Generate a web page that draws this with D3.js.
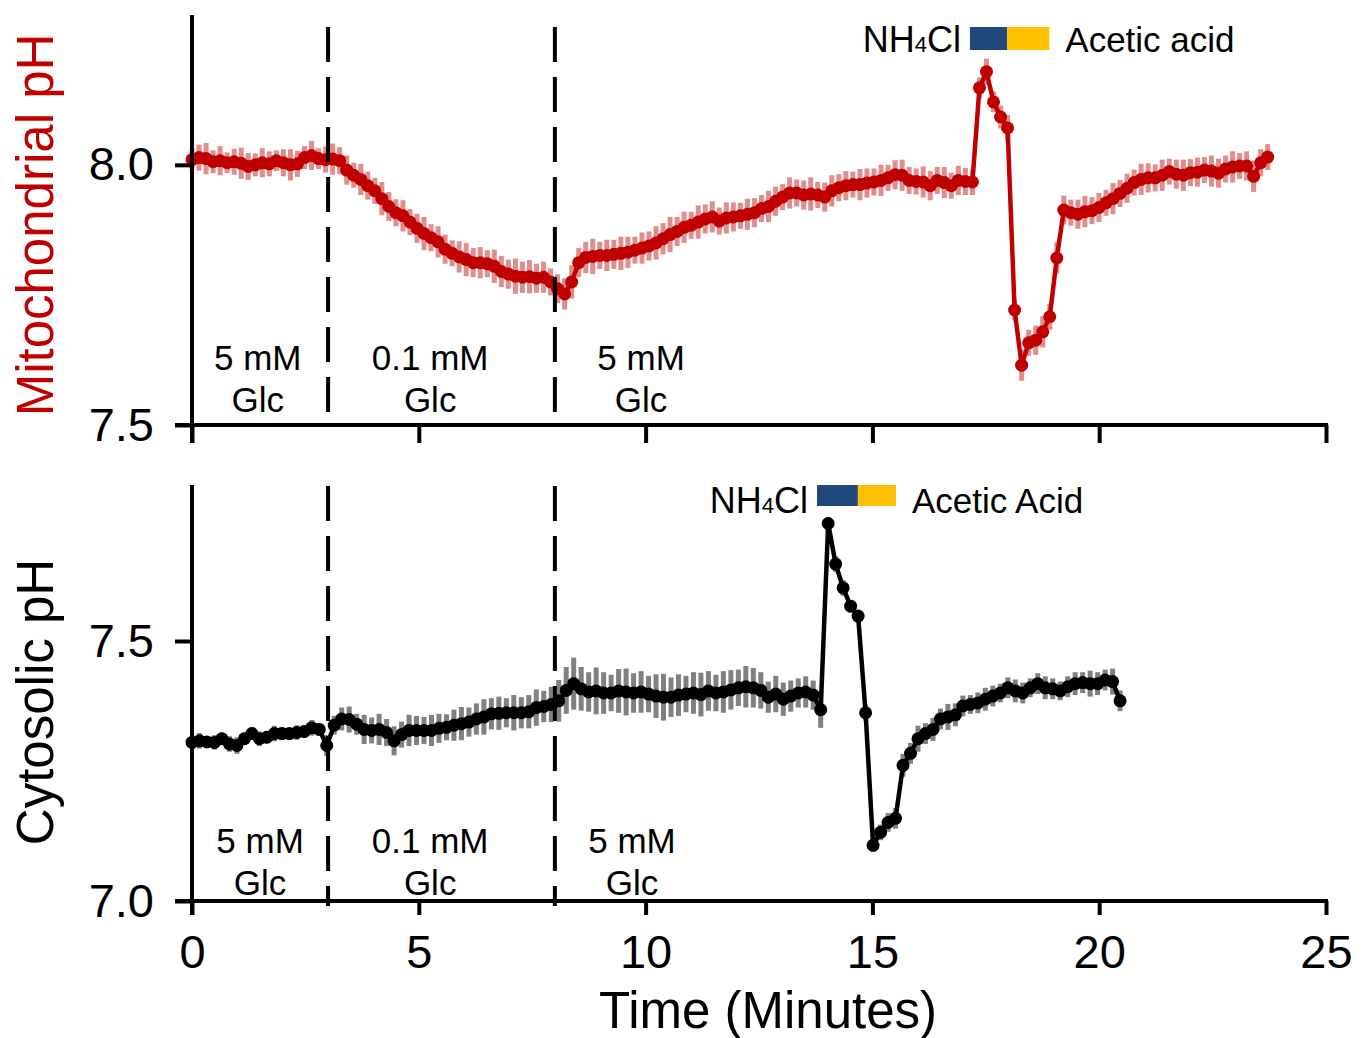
<!DOCTYPE html>
<html>
<head>
<meta charset="utf-8">
<script src="https://cdn.jsdelivr.net/npm/d3@7"></script>
<style>
  body { margin: 0; background: #fff; }
  svg text { font-family: "Liberation Sans", Arial, sans-serif; }
</style>
</head>
<body>
<svg id="chart" width="1365" height="1038"></svg>
<script>
// sampling interval (minutes) for each trace
const topDt = 0.155;
const bottomDt = 0.165;

// mitochondrial pH (mean) and error
const topValues = [
    8.010, 8.014, 8.012, 8.006, 8.008, 8.004, 8.006, 8.003, 7.997, 8.000,
    8.004, 8.002, 8.008, 8.004, 8.000, 8.002, 8.014, 8.018, 8.012, 8.010,
    8.011, 8.008, 7.990, 7.980, 7.972, 7.960, 7.950, 7.935, 7.920, 7.908,
    7.902, 7.890, 7.878, 7.868, 7.860, 7.852, 7.838, 7.830, 7.823, 7.818,
    7.812, 7.812, 7.810, 7.805, 7.795, 7.790, 7.786, 7.784, 7.785, 7.782,
    7.784, 7.775, 7.762, 7.752, 7.775, 7.812, 7.822, 7.824, 7.826, 7.826,
    7.828, 7.830, 7.832, 7.836, 7.840, 7.844, 7.850, 7.858, 7.866, 7.872,
    7.880, 7.884, 7.890, 7.896, 7.900, 7.892, 7.898, 7.900, 7.902, 7.905,
    7.908, 7.916, 7.920, 7.930, 7.938, 7.946, 7.946, 7.942, 7.944, 7.942,
    7.938, 7.950, 7.956, 7.960, 7.962, 7.962, 7.965, 7.967, 7.970, 7.975,
    7.981, 7.980, 7.970, 7.968, 7.967, 7.960, 7.970, 7.966, 7.960, 7.970,
    7.968, 7.967, 8.148, 8.179, 8.121, 8.092, 8.071, 7.721, 7.615, 7.658,
    7.663, 7.679, 7.708, 7.821, 7.913, 7.908, 7.905, 7.910, 7.912, 7.918,
    7.927, 7.935, 7.945, 7.955, 7.966, 7.972, 7.975, 7.975, 7.980, 7.987,
    7.982, 7.980, 7.985, 7.986, 7.990, 7.988, 7.984, 7.992, 7.996, 7.998,
    7.998, 7.978, 8.004, 8.015
];
const topErrors = [
    0.020, 0.025, 0.030, 0.022, 0.028, 0.020, 0.025, 0.030, 0.026, 0.022,
    0.028, 0.024, 0.020, 0.026, 0.030, 0.025, 0.022, 0.028, 0.020, 0.025,
    0.030, 0.026, 0.028, 0.024, 0.030, 0.027, 0.025, 0.032, 0.028, 0.026,
    0.030, 0.025, 0.028, 0.032, 0.026, 0.030, 0.028, 0.025, 0.030, 0.032,
    0.028, 0.030, 0.026, 0.032, 0.030, 0.028, 0.034, 0.030, 0.032, 0.028,
    0.030, 0.026, 0.028, 0.030, 0.032, 0.028, 0.030, 0.034, 0.026, 0.030,
    0.028, 0.032, 0.030, 0.026, 0.030, 0.028, 0.032, 0.030, 0.034, 0.028,
    0.030, 0.026, 0.032, 0.028, 0.030, 0.026, 0.030, 0.028, 0.025, 0.030,
    0.028, 0.026, 0.030, 0.028, 0.025, 0.030, 0.026, 0.028, 0.032, 0.025,
    0.028, 0.030, 0.026, 0.028, 0.025, 0.030, 0.028, 0.026, 0.030, 0.025,
    0.028, 0.030, 0.026, 0.025, 0.030, 0.028, 0.026, 0.030, 0.025, 0.028,
    0.026, 0.025, 0.020, 0.025, 0.020, 0.022, 0.025, 0.020, 0.030, 0.025,
    0.028, 0.030, 0.025, 0.030, 0.028, 0.025, 0.028, 0.030, 0.026, 0.028,
    0.025, 0.030, 0.026, 0.028, 0.025, 0.030, 0.028, 0.026, 0.030, 0.025,
    0.028, 0.030, 0.026, 0.028, 0.025, 0.030, 0.028, 0.026, 0.030, 0.025,
    0.028, 0.030, 0.026, 0.025
];

// cytosolic pH (mean) and error
const bottomValues = [
    7.305, 7.308, 7.306, 7.305, 7.312, 7.302, 7.299, 7.312, 7.322, 7.312,
    7.315, 7.322, 7.322, 7.322, 7.324, 7.326, 7.333, 7.330, 7.299, 7.338,
    7.350, 7.349, 7.340, 7.330, 7.328, 7.330, 7.324, 7.308, 7.320, 7.328,
    7.328, 7.328, 7.328, 7.332, 7.334, 7.338, 7.341, 7.344, 7.350, 7.354,
    7.360, 7.361, 7.362, 7.362, 7.362, 7.364, 7.372, 7.374, 7.378, 7.385,
    7.405, 7.418, 7.408, 7.402, 7.404, 7.400, 7.400, 7.404, 7.402, 7.400,
    7.402, 7.398, 7.394, 7.392, 7.392, 7.396, 7.398, 7.400, 7.397, 7.404,
    7.400, 7.402, 7.406, 7.410, 7.412, 7.410, 7.405, 7.392, 7.398, 7.388,
    7.394, 7.400, 7.402, 7.396, 7.368, 7.726, 7.648, 7.602, 7.567, 7.548,
    7.362, 7.107, 7.132, 7.151, 7.159, 7.261, 7.284, 7.312, 7.322, 7.330,
    7.350, 7.354, 7.358, 7.375, 7.378, 7.381, 7.388, 7.394, 7.400, 7.410,
    7.404, 7.400, 7.410, 7.418, 7.410, 7.408, 7.404, 7.412, 7.418, 7.420,
    7.418, 7.418, 7.425, 7.422, 7.385
];
const bottomErrors = [
    0.012, 0.015, 0.010, 0.014, 0.012, 0.015, 0.016, 0.012, 0.010, 0.014,
    0.012, 0.015, 0.012, 0.010, 0.014, 0.012, 0.015, 0.012, 0.020, 0.018,
    0.022, 0.025, 0.020, 0.028, 0.025, 0.030, 0.026, 0.028, 0.025, 0.030,
    0.028, 0.026, 0.030, 0.028, 0.025, 0.030, 0.032, 0.028, 0.030, 0.034,
    0.030, 0.032, 0.028, 0.034, 0.030, 0.032, 0.035, 0.030, 0.034, 0.040,
    0.045, 0.050, 0.042, 0.038, 0.045, 0.040, 0.035, 0.042, 0.045, 0.038,
    0.040, 0.035, 0.042, 0.045, 0.038, 0.040, 0.035, 0.040, 0.042, 0.038,
    0.035, 0.040, 0.038, 0.035, 0.040, 0.038, 0.035, 0.030, 0.035, 0.032,
    0.030, 0.028, 0.030, 0.028, 0.035, 0.012, 0.015, 0.015, 0.012, 0.010,
    0.015, 0.012, 0.015, 0.018, 0.020, 0.022, 0.020, 0.025, 0.020, 0.022,
    0.020, 0.025, 0.022, 0.020, 0.018, 0.020, 0.022, 0.020, 0.018, 0.020,
    0.022, 0.020, 0.018, 0.020, 0.022, 0.020, 0.018, 0.020, 0.022, 0.020,
    0.025, 0.022, 0.020, 0.025, 0.020
];

// glucose switches (minutes) and condition labels
const switchTimes = [3, 8];
const conditionLines = [['5 mM', 'Glc'], ['0.1 mM', 'Glc'], ['5 mM', 'Glc']];
const topConditionAt = [1.45, 5.25, 9.9];
const bottomConditionAt = [1.5, 5.25, 9.7];

// NH4Cl / acetic acid application: start NH4Cl, start acid, end acid (minutes)
const topTreatment = [17.15, 17.97, 18.9];
const bottomTreatment = [13.78, 14.68, 15.52];

const xTicks = [0, 5, 10, 15, 20, 25];

const svg = d3.select('#chart');
const x = d3.scaleLinear().domain([0, 25]).range([192, 1326]);

function drawPanel(p) {
    const y = d3.scaleLinear().domain(p.domain).range(p.range);
    const pts = p.values.map((v, i) => ({ t: i * p.dt, v: v, e: p.errors[i] }));
    const g = svg.append('g');
    const base = p.range[0];

    // error bars
    g.append('g').selectAll('line').data(pts).join('line')
        .attr('x1', d => x(d.t)).attr('x2', d => x(d.t))
        .attr('y1', d => y(d.v - d.e)).attr('y2', d => y(d.v + d.e))
        .attr('stroke', p.errColor).attr('stroke-width', p.errWidth);

    // trace
    g.append('path').datum(pts)
        .attr('d', d3.line().x(d => x(d.t)).y(d => y(d.v)))
        .attr('fill', 'none').attr('stroke', p.color)
        .attr('stroke-width', 4.5).attr('stroke-linejoin', 'round');

    g.append('g').selectAll('circle').data(pts).join('circle')
        .attr('cx', d => x(d.t)).attr('cy', d => y(d.v))
        .attr('r', 6.5).attr('fill', p.color);

    // dashed switch lines
    g.append('g').selectAll('line').data(switchTimes).join('line')
        .attr('x1', d => x(d)).attr('x2', d => x(d))
        .attr('y1', p.dashY[0]).attr('y2', p.dashY[1])
        .attr('stroke', '#000').attr('stroke-width', 4)
        .attr('stroke-dasharray', '35,15');

    // y axis
    const ya = g.append('g').attr('transform', `translate(${x(0)},0)`)
        .call(d3.axisLeft(y).tickValues(p.ticks).tickSize(17).tickPadding(21)
            .tickFormat(d3.format('.1f')));
    ya.select('.domain').remove();
    ya.selectAll('line').attr('stroke-width', 4);
    ya.selectAll('text').style('font-size', '47px').attr('fill', '#000');

    // x axis
    const xa = g.append('g').attr('transform', `translate(0,${base})`)
        .call(d3.axisBottom(x).tickValues(xTicks).tickSize(p.xTickSize).tickPadding(20)
            .tickFormat(p.showXLabels ? d3.format('d') : ''));
    xa.select('.domain').remove();
    xa.selectAll('line').attr('stroke-width', 4);
    xa.selectAll('text').style('font-size', '47px').attr('fill', '#000');

    g.append('line')
        .attr('x1', x(0) - 17).attr('x2', x(25) + 2)
        .attr('y1', base).attr('y2', base)
        .attr('stroke', '#000').attr('stroke-width', 4);
    g.append('line')
        .attr('x1', x(0)).attr('x2', x(0))
        .attr('y1', p.range[1]).attr('y2', base + p.xTickSize)
        .attr('stroke', '#000').attr('stroke-width', 4);

    // y label
    g.append('text')
        .attr('transform', `translate(53,${p.labelY}) rotate(-90)`)
        .attr('text-anchor', 'middle')
        .style('font-size', '51px').attr('fill', p.labelColor)
        .text(p.label);

    // condition labels
    p.conditionAt.forEach((t, i) => {
        g.append('text').attr('x', x(t)).attr('y', p.condBase[0])
            .attr('text-anchor', 'middle').style('font-size', '35px')
            .text(conditionLines[i][0]);
        g.append('text').attr('x', x(t)).attr('y', p.condBase[1])
            .attr('text-anchor', 'middle').style('font-size', '35px')
            .text(conditionLines[i][1]);
    });

    // treatment legend
    const tr = p.treatment;
    g.append('rect').attr('x', x(tr[0])).attr('y', p.rectY)
        .attr('width', x(tr[1]) - x(tr[0])).attr('height', p.rectH).attr('fill', '#1f497d');
    g.append('rect').attr('x', x(tr[1])).attr('y', p.rectY)
        .attr('width', x(tr[2]) - x(tr[1])).attr('height', p.rectH).attr('fill', '#ffc000');
    const nh = g.append('text').attr('x', x(tr[0]) - 9).attr('y', p.legendBase)
        .attr('text-anchor', 'end').style('font-size', '36px');
    nh.append('tspan').text('NH');
    nh.append('tspan').style('font-size', '22px').text('4');
    nh.append('tspan').text('Cl');
    g.append('text').attr('x', x(tr[2]) + 16).attr('y', p.legendBase)
        .style('font-size', '35px').text(p.acidText);
}

drawPanel({
    values: topValues, errors: topErrors, dt: topDt,
    domain: [7.5, 8.288], range: [425, 15], ticks: [7.5, 8.0],
    color: '#c00000', errColor: 'rgba(192,0,0,0.45)', errWidth: 5,
    dashY: [27, 418], xTickSize: 18, showXLabels: false,
    label: 'Mitochondrial pH', labelColor: '#c00000', labelY: 225,
    conditionAt: topConditionAt, condBase: [370, 412],
    treatment: topTreatment, rectY: 27, rectH: 23, legendBase: 52,
    acidText: 'Acetic acid'
});

drawPanel({
    values: bottomValues, errors: bottomErrors, dt: bottomDt,
    domain: [7.0, 7.8], range: [901, 485], ticks: [7.0, 7.5],
    color: '#000', errColor: '#808080', errWidth: 5,
    dashY: [486, 906], xTickSize: 14, showXLabels: true,
    label: 'Cytosolic pH', labelColor: '#000', labelY: 702,
    conditionAt: bottomConditionAt, condBase: [853, 895],
    treatment: bottomTreatment, rectY: 485, rectH: 21, legendBase: 513,
    acidText: 'Acetic Acid'
});

svg.append('text')
    .attr('x', 768).attr('y', 1028)
    .attr('text-anchor', 'middle').style('font-size', '51px')
    .text('Time (Minutes)');
</script>
</body>
</html>
